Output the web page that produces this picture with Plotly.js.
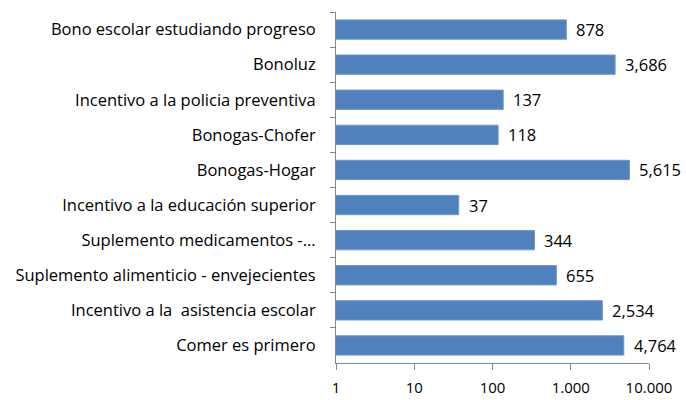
<!DOCTYPE html>
<html><head><meta charset="utf-8">
<script src="https://cdn.plot.ly/plotly-3.0.1.min.js"></script>
<style>body{margin:0;background:#fff}#c{width:686px;height:400px}</style>
</head><body><div id="c"></div>
<script>
const categories = [
  "Bono escolar estudiando progreso",
  "Bonoluz",
  "Incentivo a la policia preventiva",
  "Bonogas-Chofer",
  "Bonogas-Hogar",
  "Incentivo a la educación superior",
  "Suplemento medicamentos -...",
  "Suplemento alimenticio - envejecientes",
  "Incentivo a la  asistencia escolar",
  "Comer es primero"
];
const values = [878, 3686, 137, 118, 5615, 37, 344, 655, 2534, 4764];
const tickVals = [1, 10, 100, 1000, 10000];
const tickLabels = ["1", "10", "100", "1.000", "10.000"];

const fmt = v => v.toLocaleString('en-US');
const fam = "Open Sans, Liberation Sans, sans-serif";

const annotations = categories.map((c, i) => ({
  x: Math.log10(values[i]), y: c, xref: 'x', yref: 'y',
  text: fmt(values[i]), showarrow: false, xanchor: 'left', xshift: 8,
  font: {family: fam, size: 16.5, color: "#000"}
}));

Plotly.newPlot('c', [{
  type: 'bar', orientation: 'h',
  x: values, y: categories,
  marker: {color: '#4F81BD', line: {color: '#6f97c9', width: 1}},
  hoverinfo: 'none'
}], {
  width: 686, height: 400,
  margin: {l: 336, r: 37, t: 12, b: 37},
  paper_bgcolor: '#fff', plot_bgcolor: '#fff',
  bargap: 0.45,
  showlegend: false,
  font: {family: fam, size: 14, color: '#000'},
  xaxis: {
    type: 'log', range: [0, 4],
    tickvals: tickVals, ticktext: tickLabels,
    showgrid: false, zeroline: false,
    showline: true, linecolor: '#868686', linewidth: 1,
    ticks: 'outside', ticklen: 6, tickcolor: '#868686',
    ticklabelstandoff: 5,
    tickfont: {family: fam, size: 15, color: '#000'}
  },
  yaxis: {
    type: 'category', autorange: 'reversed',
    showgrid: false, zeroline: false,
    showline: true, linecolor: '#868686', linewidth: 1,
    ticks: 'outside', ticklen: 5, tickcolor: '#868686',
    tickson: 'boundaries',
    ticklabelstandoff: 16,
    tickfont: {family: fam, size: 16.5, color: '#000'}
  },
  annotations: annotations
}, {displayModeBar: false, staticPlot: true});
</script></body></html>
